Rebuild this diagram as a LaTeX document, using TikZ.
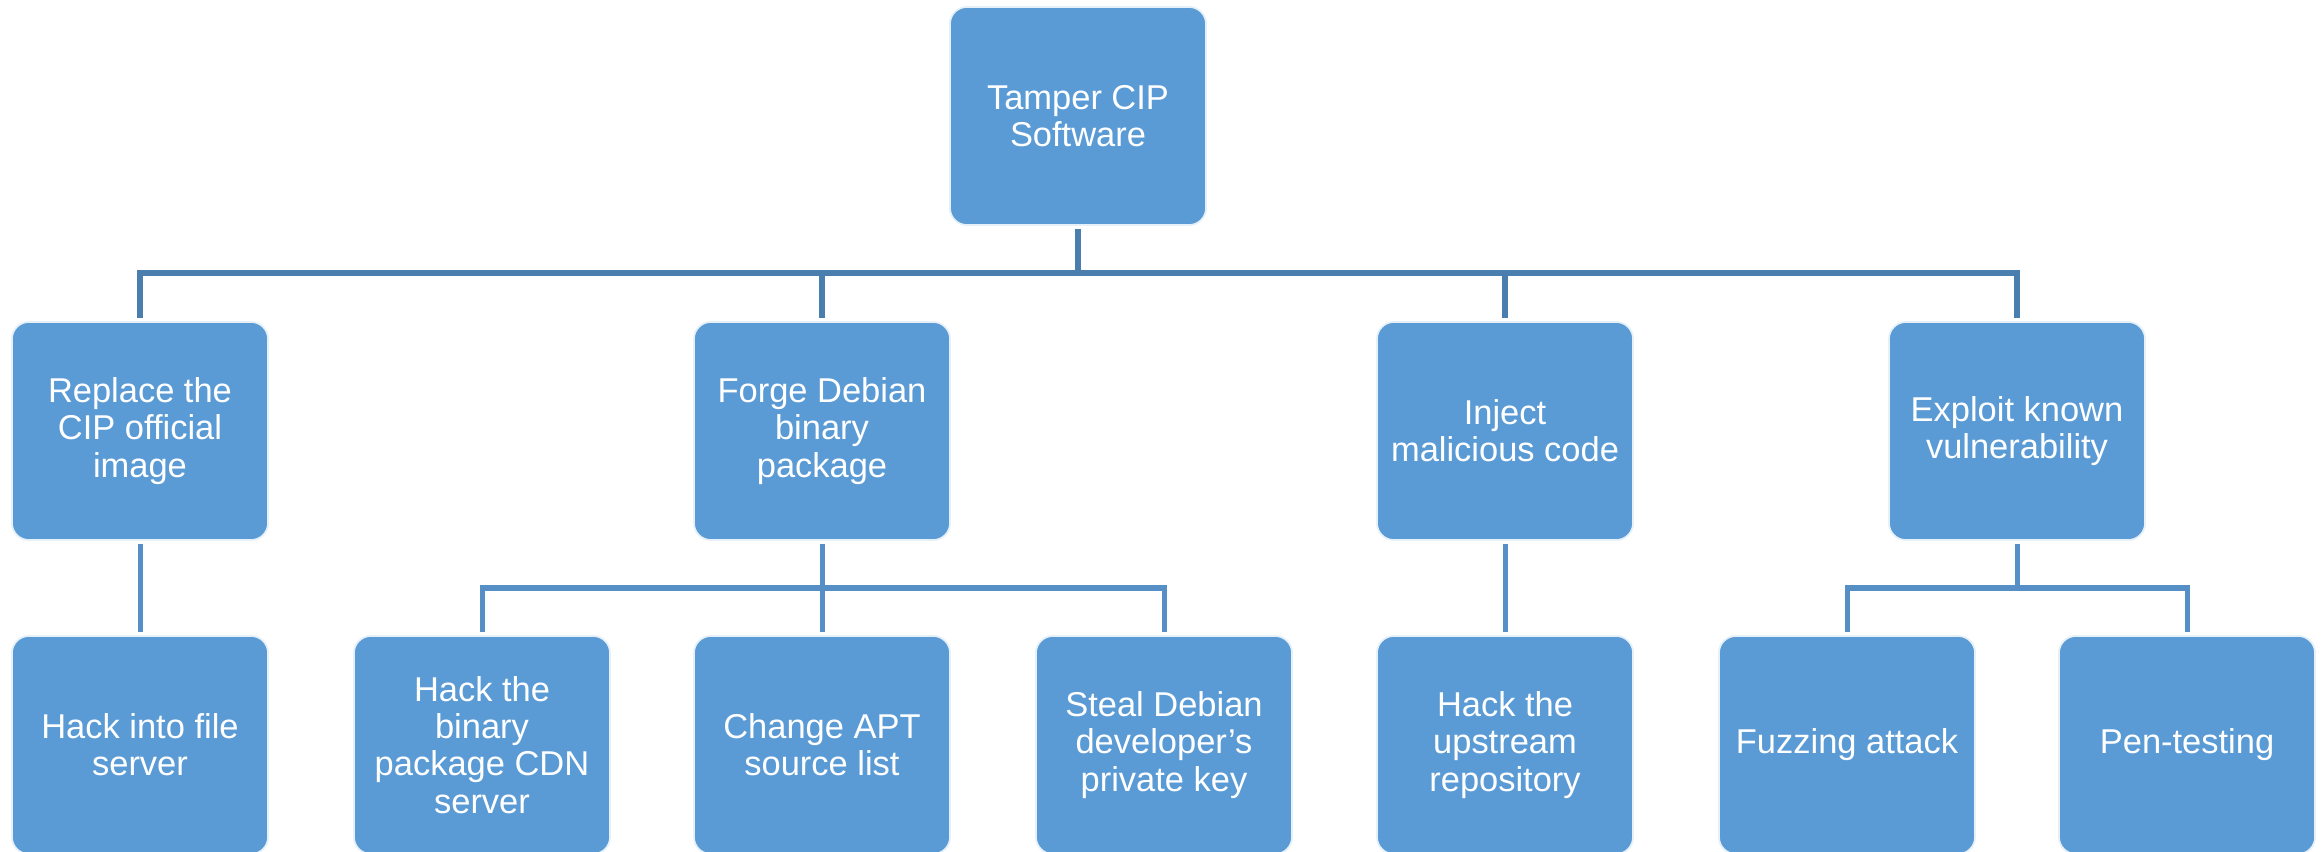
\documentclass[tikz,border=0pt]{standalone}
\usepackage{fontspec}
\setmainfont{Liberation Sans}
\usetikzlibrary{positioning}

\definecolor{boxblue}{HTML}{5B9BD5}
\definecolor{topline}{HTML}{4A7EAE}
\definecolor{lowline}{HTML}{558FC6}

\tikzset{
    goal/.style={rectangle, rounded corners=0.17cm, fill=boxblue, draw=white!85!boxblue,
        line width=0.5pt, minimum width=2.56cm, minimum height=2.18cm, inner sep=0pt,
        outer sep=0.04cm, align=center, text=white, font=\fontsize{9.8}{10.6}\selectfont},
    link/.style={line width=0.06cm, draw=topline},
    sublink/.style={line width=0.05cm, draw=lowline}
}

\begin{document}
\begin{tikzpicture}[x=0.01cm, y=-0.01cm]

    \useasboundingbox (0,0) rectangle (2321,852);

    %root
    \node[goal] (root) at (1078,116) {Tamper CIP\\Software};

    %level 1
    \node[goal] (replace) at (140,431) {Replace the\\CIP official\\image};
    \node[goal] (forge) at (822,431) {Forge Debian\\binary\\package};
    \node[goal] (inject) at (1505,431) {Inject\\malicious code};
    \node[goal] (exploit) at (2017,431) {Exploit known\\vulnerability};

    %level 2
    \node[goal] (fileserver) at (140,745) {Hack into file\\server};
    \node[goal] (cdn) at (482,745) {Hack the\\binary\\package CDN\\server};
    \node[goal] (aptlist) at (822,745) {Change APT\\source list};
    \node[goal] (privkey) at (1164,745) {Steal Debian\\developer’s\\private key};
    \node[goal] (upstream) at (1505,745) {Hack the\\upstream\\repository};
    \node[goal] (fuzzing) at (1847,745) {Fuzzing attack};
    \node[goal] (pentest) at (2187,745) {Pen-testing};

    \coordinate (busA) at (0,273);
    \coordinate (busB) at (0,588);

    %connectors
    \draw[link] (root.south) -- (root.south |- busA);
    \draw[link] (replace.north) |- (exploit.north |- busA) -- (exploit.north);
    \foreach \n in {forge,inject}{
        \draw[link] (\n.north) -- (\n.north |- busA);
    }

    \draw[sublink] (replace.south) -- (fileserver.north);
    \draw[sublink] (inject.south) -- (upstream.north);
    \draw[sublink] (forge.south) -- (aptlist.north);
    \draw[sublink] (cdn.north) |- (privkey.north |- busB) -- (privkey.north);
    \draw[sublink] (exploit.south) -- (exploit.south |- busB);
    \draw[sublink] (fuzzing.north) |- (pentest.north |- busB) -- (pentest.north);

\end{tikzpicture}
\end{document}
